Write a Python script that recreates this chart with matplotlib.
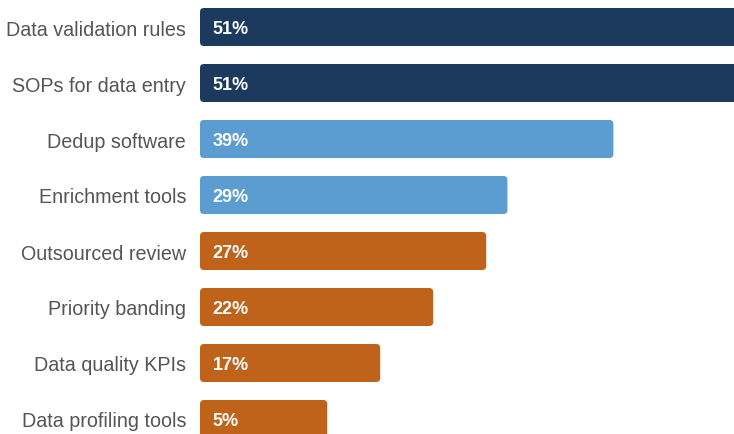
import matplotlib.pyplot as plt
import numpy as np
from matplotlib.patches import FancyBboxPatch

plt.rcParams["font.family"] = ["Liberation Sans", "DejaVu Sans"]

categories = [
    "Data validation rules",
    "SOPs for data entry",
    "Dedup software",
    "Enrichment tools",
    "Outsourced review",
    "Priority banding",
    "Data quality KPIs",
    "Data profiling tools",
]
values = [51, 51, 39, 29, 27, 22, 17, 5]
groups = ["core", "core", "tool", "tool", "other", "other", "other", "other"]

COLORS = {"core": "#1c3a5e", "tool": "#5b9dd1", "other": "#c0631a"}
MIN_WIDTH = 12  # short bars still need room for their label

fig = plt.figure(figsize=(7.34, 4.35), dpi=100)
ax = fig.add_axes([200 / 734, 0, 534 / 734, 1])
ax.set_xlim(0, 534 / 10.6)
ax.set_ylim((435 - 28) / 56, -0.5)

bar_h = 38 / 56
rx = 4 / 10.6
aspect = (4 / 56) / rx
for i, (cat, val, grp) in enumerate(zip(categories, values, groups)):
    w = max(val, MIN_WIDTH)
    ax.add_patch(FancyBboxPatch(
        (0, i - bar_h / 2), w, bar_h,
        boxstyle=f"round,pad=0,rounding_size={rx}",
        mutation_aspect=aspect,
        facecolor=COLORS[grp], edgecolor="none",
    ))
    ax.text(1.2, i + 0.03, f"{val}%", ha="left", va="center",
            color="white", fontsize=13, fontweight="bold")

ax.set_yticks(range(len(categories)))
ax.set_yticklabels(categories, fontsize=14.2, color="#555555")
ax.tick_params(axis="y", length=0, pad=10)
ax.set_xticks([])
for s in ax.spines.values():
    s.set_visible(False)

plt.savefig("out.png", dpi=100)
